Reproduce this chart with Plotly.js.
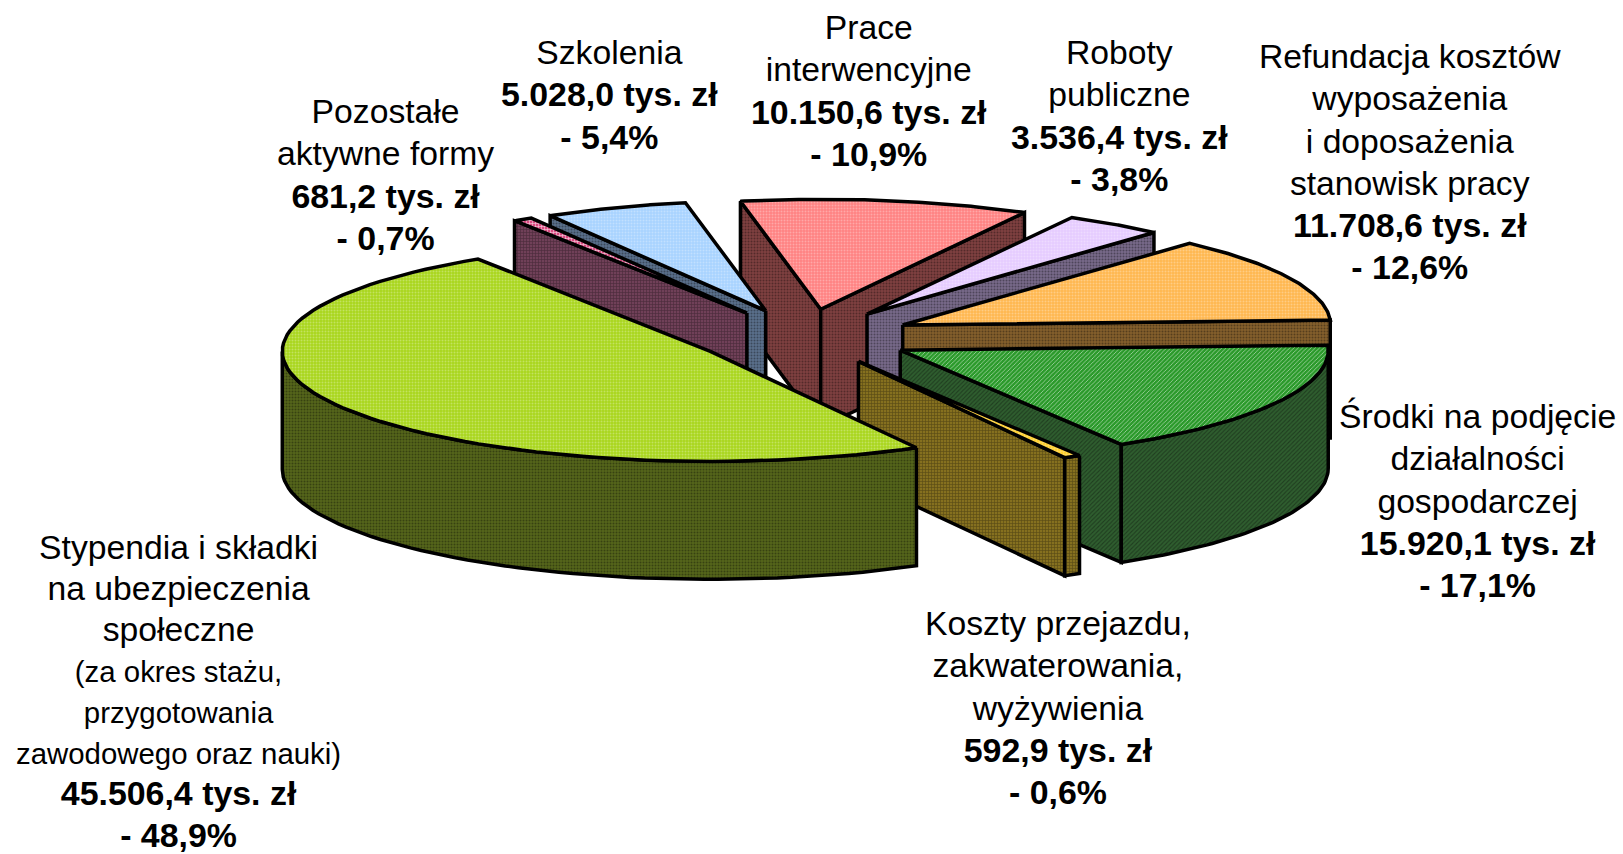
<!DOCTYPE html>
<html><head><meta charset="utf-8">
<script src="https://cdn.plot.ly/plotly-3.0.1.min.js"></script>
<style>html,body{margin:0;padding:0;background:#fff}#c{width:1623px;height:854px}</style>
</head><body><div id="c"></div>
<script>
// Data (clockwise, starting from the large slice)
const categories = ["Stypendia i składki na ubezpieczenia społeczne","Pozostałe aktywne formy","Szkolenia","Prace interwencyjne","Roboty publiczne","Refundacja kosztów wyposażenia i doposażenia stanowisk pracy","Środki na podjęcie działalności gospodarczej","Koszty przejazdu, zakwaterowania, wyżywienia"];
const amounts = [45506.4, 681.2, 5028.0, 10150.6, 3536.4, 11708.6, 15920.1, 592.9];
const shares  = [48.9, 0.7, 5.4, 10.9, 3.8, 12.6, 17.1, 0.6];
const labelLines = [
 ["Stypendia i składki","na ubezpieczenia","społeczne"],
 ["Pozostałe","aktywne formy"],
 ["Szkolenia"],
 ["Prace","interwencyjne"],
 ["Roboty","publiczne"],
 ["Refundacja kosztów","wyposażenia","i doposażenia","stanowisk pracy"],
 ["Środki na podjęcie","działalności","gospodarczej"],
 ["Koszty przejazdu,","zakwaterowania,","wyżywienia"]
];
const noteLines = [["(za okres stażu,","przygotowania","zawodowego oraz nauki)"],[],[],[],[],[],[],[]];
// Styles
const topColors  = ["#a9d61c","#d94a80","#a8d3ff","#ff8282","#e6ccff","#ffb74f","#2b9a2b","#ffd030"];
const sideColors = ["#55661a","#704058","#5a708c","#804040","#786a8a","#85602c","#2f5e2f","#85701f"];
const patternShape = [".","+",".",".",".",".","/","+"];
// Projection
const START = 151.2, PULL = 0.255, RX = 428, RY = 110, DEPTH = 118, CX = 804, CY = 337;
const drawOrder = [3,4,5,6,7,2,1,0];
const rad = d => d*Math.PI/180;
const total = amounts.reduce((a,b)=>a+b,0);
const traces = [];
let angle = START; const spans = [];
amounts.forEach(v=>{const s=v/total*360; spans.push([angle%360,angle%360+s]); angle+=s;});
function poly(xs,ys,color,shape,pat,solidity){
  const t={x:xs,y:ys,mode:'lines',fill:'toself',fillcolor:color,line:{color:'#000',width:3.5,shape:'linear'},hoverinfo:'skip',showlegend:false,type:'scatter'};
  if(shape) t.fillpattern={shape:shape,bgcolor:color,fgcolor:pat,size:3,solidity:solidity,fillmode:'replace'};
  return t;
}
function shade(hex,f){const n=parseInt(hex.slice(1),16);const c=[n>>16,(n>>8)&255,n&255].map(v=>Math.round(v+(f>0?(255-v)*f:v*f)));return 'rgb('+c.join(',')+')';}
drawOrder.forEach(i=>{
  const [a0,a1]=spans[i]; const mid=rad((a0+a1)/2);
  const ax=CX+PULL*RX*Math.sin(mid), ay=CY-PULL*RY*Math.cos(mid);
  const P=d=>[ax+RX*Math.sin(rad(d)), ay-RY*Math.cos(rad(d))];
  const sidePat=shade(sideColors[i],-0.35);
  const face=(d)=>{const p=P(d);return poly([ax,p[0],p[0],ax,ax],[ay,p[1],p[1]+DEPTH,ay+DEPTH,ay],sideColors[i],patternShape[i],sidePat,0.35);};
  if(Math.cos(rad(a0-90))<0) traces.push(face(a0));
  if(Math.cos(rad(a1+90))<0) traces.push(face(a1));
  // outer rim: front part only
  const lo=Math.max(a0,90), hi=Math.min(a1,270);
  if(hi>lo){
    const xs=[],ys=[],xb=[],yb=[];
    for(let k=0;k<=60;k++){const p=P(lo+(hi-lo)*k/60);xs.push(p[0]);ys.push(p[1]);xb.unshift(p[0]);yb.unshift(p[1]+DEPTH);}
    traces.push(poly(xs.concat(xb,[xs[0]]),ys.concat(yb,[ys[0]]),sideColors[i],patternShape[i],sidePat,0.35));
  }
  // top
  const xs=[ax],ys=[ay];
  for(let k=0;k<=80;k++){const p=P(a0+(a1-a0)*k/80);xs.push(p[0]);ys.push(p[1]);}
  xs.push(ax);ys.push(ay);
  const hatched=patternShape[i]==='/';
  traces.push(poly(xs,ys,topColors[i],patternShape[i],shade(topColors[i],hatched?0.7:(i===1?0.75:0.3)),hatched?0.22:0.35));
});
// Labels
const labelPos=[[178,691],[385,174],[609,94],[869,90],[1119,115],[1410,161],[1477,500],[1058,707]];
const baseSize=[31.6,32.5,32.5,32.5,32.5,32.5,32.5,32.5];
const fmtAmount=v=>{const s=v.toFixed(1).replace('.',',');const [a,b]=s.split(',');return a.replace(/\B(?=(\d{3})+$)/g,'.')+','+b;};
const sp=(t,size,bold)=>(bold?'<b>':'')+'<span style="font-size:'+size+'px">'+t+'</span>'+(bold?'</b>':'');
const annotations=categories.map((c,i)=>({
  x:labelPos[i][0],y:labelPos[i][1],xref:'x',yref:'y',xanchor:'center',yanchor:'middle',align:'center',showarrow:false,
  text:labelLines[i].map(l=>sp(l,33.7)).concat(noteLines[i].map(l=>sp(l,29.4)),[
    sp(fmtAmount(amounts[i])+' tys. zł',33.9,true),
    sp('- '+shares[i].toFixed(1).replace('.',',')+'%',33.9,true)]).join('<br>'),
  font:{family:'Liberation Sans, Arial, sans-serif',size:baseSize[i],color:'#000'}
}));
Plotly.newPlot('c',traces,{
  width:1623,height:854,margin:{l:0,r:0,t:0,b:0},paper_bgcolor:'#fff',plot_bgcolor:'#fff',showlegend:false,
  xaxis:{range:[0,1623],visible:false,fixedrange:true},
  yaxis:{range:[854,0],visible:false,fixedrange:true},
  annotations
},{displayModeBar:false,staticPlot:true});
</script></body></html>
